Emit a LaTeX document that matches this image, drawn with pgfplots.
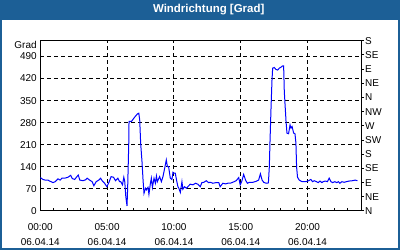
\documentclass[border=0pt]{standalone}
\usepackage{fontspec}
\setmainfont{Liberation Sans}
\usepackage{graphicx}
\usepackage{pgfplots}
\usepackage{pgfplotstable}
\pgfplotsset{compat=1.18}
\definecolor{barblue}{RGB}{28,95,150}
\definecolor{lineblue}{RGB}{0,0,255}

\pgfplotstableread{
h v
0.00 106
0.20 100
0.37 98
0.57 98
0.70 95
0.95 90
1.12 93
1.32 102
1.49 98
1.62 104
1.82 104
2.07 107
2.27 113
2.39 103
2.57 100
2.74 109
2.84 114
2.96 98
3.19 96
3.39 99
3.51 104
3.69 98
3.88 93
4.01 80
4.18 93
4.38 98
4.51 104
4.63 96
4.81 88
4.98 77
5.13 90
5.30 109
5.48 107
5.63 96
5.80 104
5.93 93
6.02 93
6.15 83
6.25 107
6.32 93
6.40 45
6.49 16
6.54 77
6.62 215
6.64 284
6.82 284
7.07 298
7.27 308
7.37 310
7.44 289
7.51 215
7.61 157
7.69 98
7.76 56
7.87 72
7.94 67
8.06 75
8.13 53
8.24 88
8.31 104
8.39 75
8.51 104
8.61 88
8.69 111
8.76 93
8.93 109
9.06 93
9.18 109
9.31 136
9.43 162
9.51 141
9.60 141
9.73 104
9.85 100
9.93 123
10.00 120
10.10 120
10.22 93
10.30 77
10.37 72
10.48 59
10.60 93
10.67 69
10.80 77
10.93 72
11.04 77
11.22 85
11.42 83
11.62 88
11.79 85
11.97 77
12.09 90
12.24 91
12.42 96
12.59 90
12.74 91
12.91 88
13.16 90
13.36 90
13.46 77
13.66 88
13.86 86
14.03 88
14.21 88
14.40 91
14.66 96
14.85 106
14.96 83
15.07 93
15.22 116
15.37 97
15.50 88
15.65 91
15.90 91
16.15 94
16.34 98
16.47 118
16.60 98
16.72 91
16.90 88
17.07 89
17.14 141
17.19 220
17.27 331
17.34 416
17.39 453
17.51 455
17.63 449
17.76 447
17.89 453
18.01 456
18.13 460
18.21 460
18.26 379
18.39 284
18.46 247
18.58 245
18.69 273
18.76 263
18.84 268
18.96 247
19.06 245
19.13 215
19.18 140
19.25 107
19.38 98
19.58 93
19.88 93
20.07 96
20.25 100
20.37 93
20.50 96
20.67 93
20.80 90
20.93 95
21.07 90
21.17 93
21.32 95
21.49 93
21.62 104
21.75 93
21.87 90
22.04 93
22.19 90
22.31 93
22.42 88
22.57 93
22.74 91
22.91 93
23.11 95
23.36 96
23.56 98
23.73 96
}\winddata

\begin{document}
\begin{tikzpicture}[x=1bp,y=1bp]
\fill[white] (0,0) rectangle (400,250);
\useasboundingbox (0,0) rectangle (400,250);
\fill[barblue] (0,230) rectangle (400,250);
\fill[barblue] (0,0) rectangle (2,250);
\fill[barblue] (398,0) rectangle (400,250);
\fill[barblue] (0,0) rectangle (400,2);
\node[white, inner sep=0pt, font=\bfseries\fontsize{11.5}{13}\selectfont] at (208.7,240) {Windrichtung [Grad]};

\begin{axis}[
  at={(40.3bp,39bp)}, anchor=south west,
  scale only axis, width=320.7bp, height=170.3bp,
  xmin=0, xmax=24, ymin=0, ymax=540,
  axis line style={line width=1bp, black},
  tick pos=left,
  xtick={0,5,10,15,20},
  minor xtick={1,2,3,4,6,7,8,9,11,12,13,14,16,17,18,19,21,22,23},
  xtick align=inside,
  major tick length=3bp, minor tick length=3bp,
  every tick/.style={black, line width=1bp},
  xticklabels={{00:00\\06.04.14},{05:00\\06.04.14},{10:00\\06.04.14},{15:00\\06.04.14},{20:00\\06.04.14}},
  xticklabel style={align=center, font=\fontsize{10}{15}\selectfont, yshift=-9bp},
  ytick={0,70,140,210,280,350,420,490},
  yticklabels={0,70,140,210,280,350,420,490},
  ytick style={draw=none},
  yticklabel style={font=\fontsize{10}{12}\selectfont},
  xmajorgrids, ymajorgrids,
  major grid style={black, line width=1bp, dash pattern=on 4bp off 3bp},
  clip=false,
]
\addplot[lineblue, line width=1bp] table[x=h, y=v] {\winddata};
\node[anchor=south east, inner sep=0pt, font=\fontsize{10}{12}\selectfont] at ([xshift=-3.5bp,yshift=-8bp]rel axis cs:0,1) {Grad};
\end{axis}

\begin{axis}[
  at={(40.3bp,39bp)}, anchor=south west,
  scale only axis, width=320.7bp, height=170.3bp,
  xmin=0, xmax=24, ymin=0, ymax=540,
  hide x axis,
  axis y line*=right,
  axis line style={line width=1bp, black},
  ytick={0,45,90,135,180,225,270,315,360,405,450,495,540},
  yticklabels={N,NE,E,SE,S,SW,W,NW,N,NE,E,SE,S},
  ytick align=outside,
  major tick length=3bp,
  every tick/.style={black, line width=1bp},
  yticklabel style={font=\fontsize{10}{12}\selectfont, anchor=west, inner sep=1bp},
]
\end{axis}
\end{tikzpicture}
\end{document}
